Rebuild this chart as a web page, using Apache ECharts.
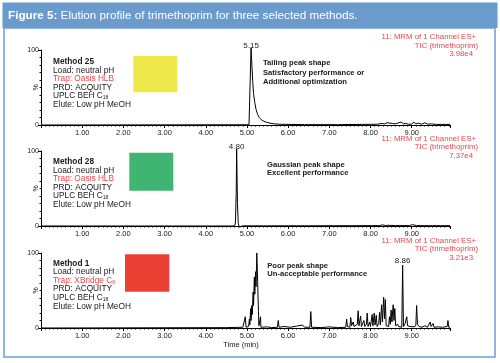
<!DOCTYPE html>
<html><head><meta charset="utf-8">
<script src="https://cdn.jsdelivr.net/npm/echarts@6/dist/echarts.min.js"></script>
<style>html,body{margin:0;padding:0;background:#fff}#c{width:500px;height:363px}</style>
</head><body><div id="c"></div><script>
// ---- data ----
const xTickLabels = ['1.00','2.00','3.00','4.00','5.00','6.00','7.00','8.00','9.00'];
const yTickLabels = ['0','100'];
const peakLabels = ['5.15','4.80','8.86'];
const peakTimes = [5.10, 4.75, 8.78];   // where the labelled peaks sit on the drawn axis

// Method 25 (tailing peak)
const m25Time  = [0.00,4.95,5.05,5.08,5.10,5.12,5.14,5.16,5.19,5.22,5.26,5.30,5.35,5.41,5.48,5.56,5.66,5.80,6.40,7.20,7.80,8.15,8.28,8.34,8.40,8.44,8.47,8.50,8.54,8.60,8.66,8.70,8.74,8.80,8.86,8.92,8.96,9.00,9.05,9.10,9.16,9.24,9.32,9.38,9.46,9.60,9.93];
const m25Value = [0,0.3,0.5,1,103,80,58,42,30,21,14,10,7,5,3.5,2.5,1.5,1,0.5,0.5,0.8,1,2,1.5,3,4,2.5,3.5,2,1.5,2.5,1,4,1.5,2,1,3,1.2,4,1.5,2.5,1,3,1.2,1.5,0.8,0.8];

// Method 28 (gaussian peak)
const m28Time  = [0.00,4.60,4.70,4.72,4.74,4.75,4.77,4.79,4.82,4.90,5.50,6.50,7.50,8.20,8.30,8.36,8.42,8.60,8.95,9.02,9.06,9.12,9.50,9.93];
const m28Value = [0,0,0.2,4,45,103,30,3,-1.5,0.2,0.2,0.3,0.4,0.5,1.5,0.6,1,0.5,0.6,1.8,0.7,0.5,0.4,0.4];

// Method 1 (poor peak shape)
const m1Time  = [0.00,4.50,4.90,4.94,4.96,4.98,5.04,5.06,5.07,5.09,5.10,5.12,5.13,5.15,5.16,5.18,5.19,5.21,5.22,5.24,5.26,5.27,5.28,5.29,5.32,5.33,5.34,5.50,5.60,5.74,5.76,5.78,5.90,6.05,6.20,6.35,6.40,6.53,6.55,6.57,6.80,7.00,7.20,7.40,7.42,7.44,7.50,7.52,7.54,7.58,7.60,7.68,7.70,7.72,7.76,7.78,7.84,7.86,7.90,7.92,7.94,7.98,8.00,8.04,8.06,8.09,8.11,8.14,8.16,8.20,8.22,8.24,8.27,8.29,8.32,8.34,8.36,8.38,8.44,8.46,8.48,8.50,8.52,8.55,8.57,8.59,8.61,8.66,8.68,8.76,8.78,8.80,8.84,8.88,8.90,8.96,9.05,9.10,9.12,9.14,9.18,9.25,9.32,9.38,9.45,9.47,9.52,9.54,9.65,9.75,9.86,9.88,9.90,9.93];
const m1Value = [0,0.5,1,0.5,15,1,2,12,4,26,10,30,18,48,30,68,45,75,55,100,62,40,22,3,2,15,1,1.5,0.5,1,10,1,2,1,2.5,4,1,1,22,1,0.5,1.5,0.5,1,12,2,1,14,3,8,2,5,23,3,16,2,10,2,5,20,2,8,2,18,3,20,4,17,2,6,21,4,31,8,41,12,38,3,2,15,5,24,8,31,10,26,3,5,2,1,84,2,6,15,3,2,1.5,3,30,5,2,1,3,1,8,2,6,1,1.5,1,2,10,1,1];

const methodNames = ['Method 25','Method 28','Method 1'];
const trapNames = ['Trap: Oasis HLB','Trap: Oasis HLB','Trap: XBridge C{s|8}'];
const verdicts = [
  ['Tailing peak shape','Satisfactory performance or','Additional optimization'],
  ['Gaussian peak shape','Excellent performance'],
  ['Poor peak shape','Un-acceptable performance']
];
const intensities = ['3.98e4','7.37e4','3.21e3'];
const boxColors = ['#eee84a','#40b571','#ea4034'];

// ---- layout / styles ----
const FONT = '"Liberation Sans Narrow","Liberation Sans",Arial,sans-serif';
const tops = [50,151,253];
const GL = 41, GW = 409, GH = 75;
const RED = '#e8474a', DARK = '#1a1a1a';

const seriesSets = [[m25Time,m25Value],[m28Time,m28Value],[m1Time,m1Value]];

const grids = tops.map(t=>({left:GL, top:t, width:GW, height:GH}));
const xAxes = tops.map((t,i)=>({
  type:'value', gridIndex:i, min:0, max:9.93, interval:1,
  axisLine:{lineStyle:{color:'#000', width:1}},
  axisTick:{length:3, lineStyle:{color:'#000'}},
  minorTick:{show:true, splitNumber:10, length:1.5, lineStyle:{color:'#000'}},
  splitLine:{show:false},
  axisLabel:{margin:4, fontSize:7.5, fontFamily:FONT, color:DARK, showMinLabel:false, showMaxLabel:false,
    formatter:v=>{ const k=Math.round(v); return (Math.abs(v-k)<1e-6 && k>=1 && k<=9) ? xTickLabels[k-1] : ''; }}
}));
const yAxes = tops.map((t,i)=>({
  type:'value', gridIndex:i, min:0, max:100, interval:100,
  axisLine:{show:true, lineStyle:{color:'#000', width:1}},
  axisTick:{show:true, length:3, lineStyle:{color:'#000'}},
  minorTick:{show:true, splitNumber:10, length:1.5, lineStyle:{color:'#000'}},
  splitLine:{show:false},
  axisLabel:{margin:2, fontSize:7, fontFamily:FONT, color:DARK, formatter:v=> v===0 ? yTickLabels[0] : (v===100 ? yTickLabels[1] : '')}
}));
const series = seriesSets.map((s,i)=>{
  const pk = s[0].indexOf(peakTimes[i]);
  return {
    type:'line', xAxisIndex:i, yAxisIndex:i, symbol:'none', clip:false,
    lineStyle:{color:'#000', width:1}, data:s[0].map((t,k)=>[t,s[1][k]]), animation:false,
    markPoint:{symbol:'circle', symbolSize:0, animation:false,
      label:{show:true, position:'top', distance:0, fontFamily:FONT, fontSize:8, color:DARK, formatter:peakLabels[i]},
      data:[{coord:[s[0][pk], Math.min(s[1][pk], 100)]}]}
  };
});

const graphic = [];
graphic.push({type:'rect', shape:{x:2.5,y:2.5,width:495,height:25.5}, style:{fill:'#6b9bcd'}});
graphic.push({type:'rect', shape:{x:4,y:28,width:491,height:329}, style:{fill:'none', stroke:'#6d9dd0', lineWidth:1.5}});
graphic.push({type:'text', x:8, y:16, style:{text:'{b|Figure 5:} Elution profile of trimethoprim for three selected methods.', fill:'#fff', font:'11.7px '+FONT, textVerticalAlign:'middle',
  rich:{b:{fontWeight:'bold', fontSize:11.7, fontFamily:FONT, fill:'#fff', color:'#fff'}}}});

const leftStarts = [61.7,161.7,263.3];
const boxes = [[133.3,56,44,36.3],[129.3,152.7,44,38],[125,254.3,44.3,37.4]];
const annStart = [[263,63.3,9.5],[267,165,8.4],[267.3,265.7,8.6]];
const rightTop = [37,138.5,240.5];
for (let i=0;i<3;i++){
  const y0 = leftStarts[i], dy = 8.6;
  const lines = [
    [methodNames[i], DARK, 'bold'],
    ['Load: neutral pH', DARK, 'normal'],
    [trapNames[i], RED, 'normal'],
    ['PRD: ACQUITY', DARK, 'normal'],
    ['UPLC BEH C{s|18}', DARK, 'normal'],
    ['Elute: Low pH MeOH', DARK, 'normal']
  ];
  lines.forEach((ln,k)=>{
    graphic.push({type:'text', x:53, y:y0+k*dy, style:{text:ln[0], fill:ln[1], font:ln[2]+' 8.3px '+FONT, textVerticalAlign:'middle',
      rich:{s:{fontSize:5, fontFamily:FONT, fill:ln[1], color:ln[1], padding:[4,0,0,0]}}}});
  });
  const b = boxes[i];
  graphic.push({type:'rect', shape:{x:b[0],y:b[1],width:b[2],height:b[3]}, style:{fill:boxColors[i]}});
  const a = annStart[i];
  verdicts[i].forEach((t,k)=>{
    graphic.push({type:'text', x:a[0], y:a[1]+k*a[2], style:{text:t, fill:DARK, font:'bold 7.6px '+FONT, textVerticalAlign:'middle'}});
  });
  const r = rightTop[i];
  graphic.push({type:'text', x:476, y:r, style:{text:'11: MRM of 1 Channel ES+', fill:RED, font:'7.8px '+FONT, textAlign:'right', textVerticalAlign:'middle'}});
  graphic.push({type:'text', x:478, y:r+8.5, style:{text:'TIC (trimethoprim)', fill:RED, font:'7.8px '+FONT, textAlign:'right', textVerticalAlign:'middle'}});
  graphic.push({type:'text', x:473, y:r+17, style:{text:intensities[i], fill:RED, font:'7.8px '+FONT, textAlign:'right', textVerticalAlign:'middle'}});
  graphic.push({type:'text', x:36, y:tops[i]+GH/2, rotation:Math.PI/2, style:{text:'%', fill:DARK, font:'7px '+FONT, textAlign:'center', textVerticalAlign:'middle'}});
}
graphic.push({type:'text', x:241, y:345, style:{text:'Time (min)', fill:DARK, font:'7.5px '+FONT, textAlign:'center', textVerticalAlign:'middle'}});

const chart = echarts.init(document.getElementById('c'), null, {renderer:'canvas'});
chart.setOption({animation:false, grid:grids, xAxis:xAxes, yAxis:yAxes, series:series, graphic:graphic});
</script></body></html>
